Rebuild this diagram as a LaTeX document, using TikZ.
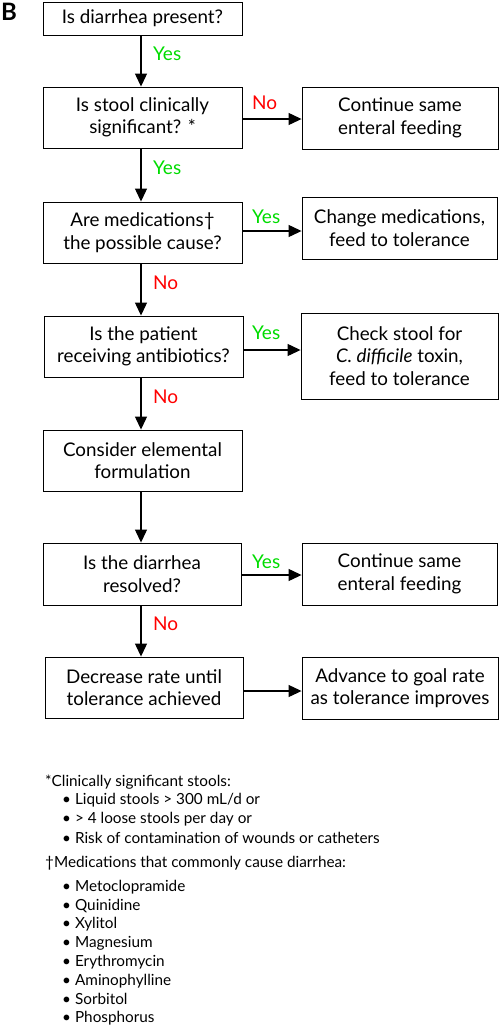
\documentclass[tikz,border=0pt]{standalone}
\usepackage{fontspec}
\setmainfont{Lato}
\usetikzlibrary{arrows.meta,calc}
\definecolor{yesgreen}{RGB}{0,220,0}
\definecolor{nored}{RGB}{255,0,0}
\begin{document}
\begin{tikzpicture}[x=1pt,y=-1pt,
  box/.style={draw,line width=0.9pt,align=center,inner sep=0pt,
    font=\fontsize{18.8}{22.5}\selectfont},
  flow/.style={line width=1.2pt,-{Triangle[length=13pt,width=12pt]}},
  yeslbl/.style={text=yesgreen,font=\fontsize{19}{20}\selectfont,inner sep=0pt},
  nolbl/.style={text=nored,font=\fontsize{19}{20}\selectfont,inner sep=0pt},
  note/.style={anchor=west,inner sep=0pt,font=\fontsize{15.3}{16}\selectfont}]
\useasboundingbox (0,0) rectangle (500,1029);
% title letter
\node[anchor=north west,inner sep=0pt,font=\fontsize{24}{24}\selectfont\bfseries] (B) at (1,3) {B};
% left column
\node[box,minimum width=199pt,minimum height=33pt] (b1) at (142.5,18.5) {Is diarrhea present?};
\node[box,minimum width=199pt,minimum height=61pt] (b2) at (142.5,117.5) {Is stool clinically\\significant? *};
\node[box,minimum width=199pt,minimum height=61pt] (b3) at (142.5,232.5) {Are medications†\\the possible cause?};
\node[box,minimum width=199pt,minimum height=61pt] (b4) at (143.5,346.5) {Is the patient\\receiving antibiotics?};
\node[box,minimum width=199pt,minimum height=61pt] (b5) at (142.5,460.5) {Consider elemental\\formulation};
\node[box,minimum width=198pt,minimum height=62pt] (b6) at (142,574) {Is the diarrhea\\resolved?};
\node[box,minimum width=198pt,minimum height=61pt] (b7) at (144,687.5) {Decrease rate until\\tolerance achieved};
% right column
\node[box,minimum width=196pt,minimum height=62pt] (r2) at (400,118) {Continue same\\enteral feeding};
\node[box,minimum width=195pt,minimum height=62pt] (r3) at (399.5,228) {Change medications,\\feed to tolerance};
\node[box,minimum width=197pt,minimum height=86pt] (r4) at (399.5,356) {Check stool for\\\textit{C. difficile} toxin,\\feed to tolerance};
\node[box,minimum width=195pt,minimum height=62pt] (r6) at (399.5,574) {Continue same\\enteral feeding};
\node[box,minimum width=196pt,minimum height=62pt] (r7) at (400,688) {Advance to goal rate\\as tolerance improves};
% vertical connectors
\draw[flow] (b1.south -| 141,0) -- (b2.north -| 141,0);
\draw[flow] (b2.south -| 141,0) -- (b3.north -| 141,0);
\draw[flow] (b3.south -| 141,0) -- (b4.north -| 141,0);
\draw[flow] (b4.south -| 141,0) -- (b5.north -| 141,0);
\draw[flow] (b5.south -| 141,0) -- (b6.north -| 141,0);
\draw[flow] (b6.south -| 141,0) -- (b7.north -| 141,0);
% horizontal connectors
\draw[flow] (b2.east |- 0,119) -- (r2.west |- 0,119);
\draw[flow] (b3.east |- 0,231) -- (r3.west |- 0,231);
\draw[flow] (b4.east |- 0,350) -- (r4.west |- 0,350);
\draw[flow] (b6.east |- 0,575) -- (r6.west |- 0,575);
\draw[flow] (b7.east |- 0,691) -- (r7.west |- 0,691);
% labels
\node[yeslbl,anchor=west] (l1) at (153,54) {Yes};
\node[yeslbl,anchor=west] (l2) at (153,168) {Yes};
\node[nolbl,anchor=west] (l3) at (153,283) {No};
\node[nolbl,anchor=west] (l4) at (153,397) {No};
\node[nolbl,anchor=west] (l6) at (153,624) {No};
\node[nolbl,anchor=west] (h2) at (252,103) {No};
\node[yeslbl,anchor=west] (h3) at (252,217) {Yes};
\node[yeslbl,anchor=west] (h4) at (252,333) {Yes};
\node[yeslbl,anchor=west] (h6) at (252,562) {Yes};
% footnotes
\node[note] (n1) at (45,782) {*Clinically significant stools:};
\node[note] (n2) at (62,800) {•\hspace{4pt}Liquid stools > 300 mL/d or};
\node[note] (n3) at (62,819) {•\hspace{4pt}> 4 loose stools per day or};
\node[note] (n4) at (62,838) {•\hspace{4pt}Risk of contamination of wounds or catheters};
\node[note] (m0) at (45,863) {†Medications that commonly cause diarrhea:};
\node[note] (m1) at (62,887) {•\hspace{4pt}Metoclopramide};
\node[note] (m2) at (62,906) {•\hspace{4pt}Quinidine};
\node[note] (m3) at (62,924) {•\hspace{4pt}Xylitol};
\node[note] (m4) at (62,943) {•\hspace{4pt}Magnesium};
\node[note] (m5) at (62,962) {•\hspace{4pt}Erythromycin};
\node[note] (m6) at (62,981) {•\hspace{4pt}Aminophylline};
\node[note] (m7) at (62,999) {•\hspace{4pt}Sorbitol};
\node[note] (m8) at (62,1018) {•\hspace{4pt}Phosphorus};
\end{tikzpicture}
\end{document}
